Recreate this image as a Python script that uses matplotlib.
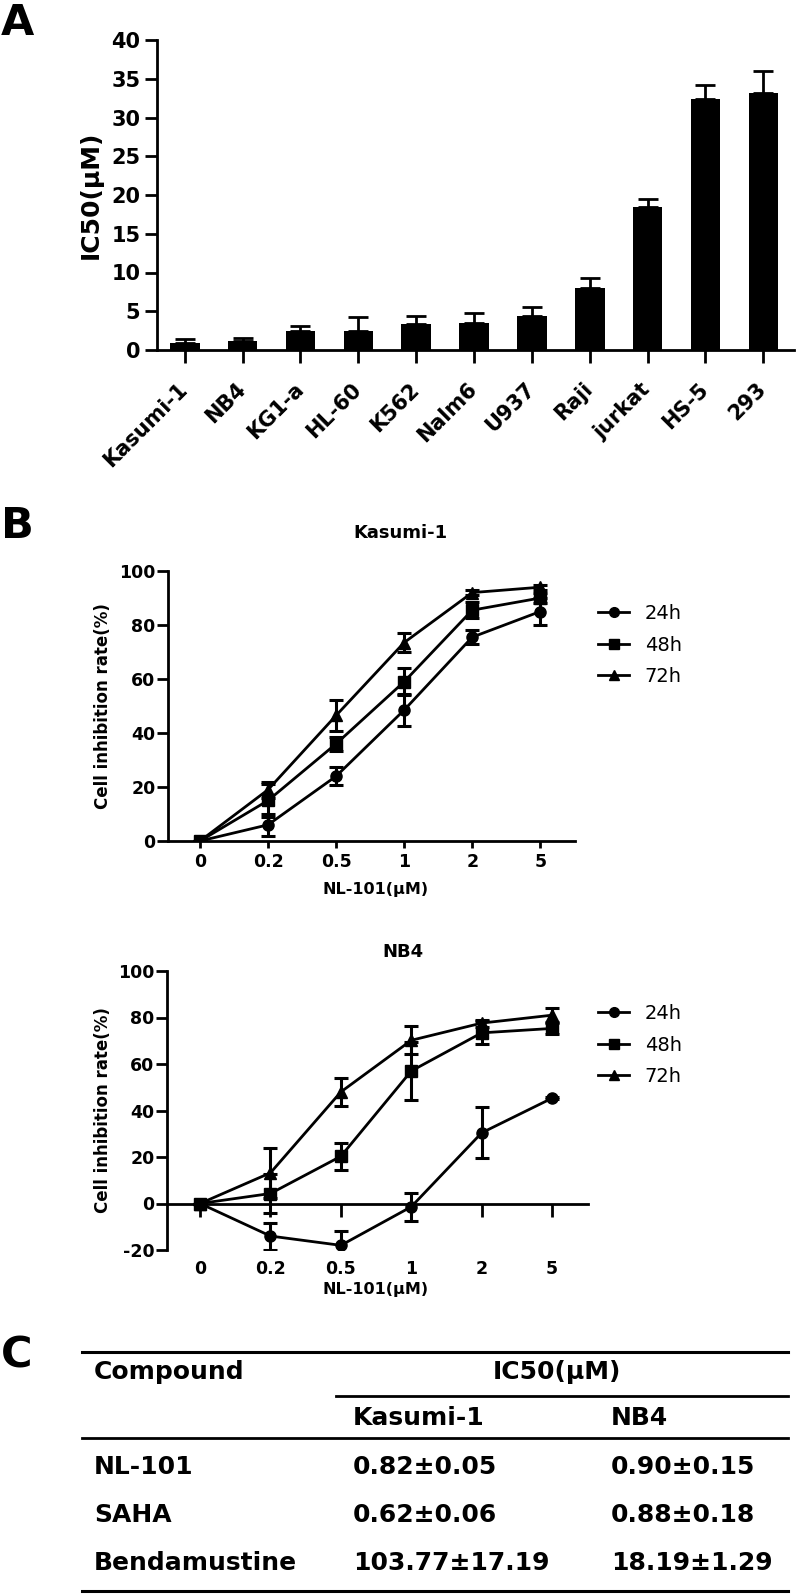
import matplotlib
matplotlib.use("Agg")
import matplotlib.pyplot as plt
from matplotlib.lines import Line2D
import numpy as np

plt.rcParams['font.family'] = ['DejaVu Sans']
plt.rcParams['font.weight'] = 'bold'
plt.rcParams['axes.labelweight'] = 'bold'
plt.rcParams['axes.unicode_minus'] = False

W, H = 796, 1595

# panel A data
cells = ["Kasumi-1", "NB4", "KG1-a", "HL-60", "K562", "Nalm6", "U937", "Raji", "jurkat", "HS-5", "293"]
ic50 = [0.95, 1.2, 2.45, 2.45, 3.3, 3.5, 4.4, 8.05, 18.45, 32.4, 33.2]
ic50_err = [0.5, 0.4, 0.65, 1.75, 1.15, 1.3, 1.2, 1.3, 1.05, 1.8, 2.85]

# panel B data
doses = ["0", "0.2", "0.5", "1", "2", "5"]
times = ["24h", "48h", "72h"]
markers = ["o", "s", "^"]
kas_24 = [0, 6, 24, 48.5, 75.5, 85]
kas_24_err = [0, 4, 3.3, 6, 2.5, 5]
kas_48 = [0, 15, 36, 59, 85.5, 90]
kas_48_err = [0, 6, 2.5, 5, 3, 2]
kas_72 = [0, 19, 46.5, 73.5, 92, 94]
kas_72_err = [0, 3, 5.7, 3.5, 1, 1]
nb4_24 = [0, -14, -18, -1.4, 30.4, 45.3]
nb4_24_err = [0, 5.8, 6, 6, 11, 0.5]
nb4_48 = [0, 4.3, 20.3, 57, 73.4, 75.3]
nb4_48_err = [0, 8.6, 5.7, 12.5, 5, 2.5]
nb4_72 = [0, 13.2, 48, 70.2, 77.6, 81]
nb4_72_err = [0, 10.7, 6, 6, 1.5, 3]

# panel C data
compounds = ["NL-101", "SAHA", "Bendamustine"]
kas_ic50 = ["0.82\u00b10.05", "0.62\u00b10.06", "103.77\u00b117.19"]
nb4_ic50 = ["0.90\u00b10.15", "0.88\u00b10.18", "18.19\u00b11.29"]


def rect(l, t, r, b):
    return [l / W, 1 - b / H, (r - l) / W, (b - t) / H]


fig = plt.figure(figsize=(W / 100, H / 100), dpi=100)

# ---- A ----
ax = fig.add_axes(rect(157, 40, 794, 350))
x = np.arange(len(cells))
ax.bar(x, ic50, width=0.51, color="black",
       yerr=[np.zeros(len(ic50)), ic50_err],
       error_kw=dict(ecolor="black", elinewidth=2, capsize=7, capthick=2))
ax.set_xlim(-0.48, 10.53)
ax.set_ylim(0, 40)
ax.set_yticks(range(0, 41, 5))
ax.set_xticks(x)
ax.set_xticklabels(cells, rotation=45, ha="right", va="center", rotation_mode="anchor", fontsize=15)
for s in ["top", "right"]:
    ax.spines[s].set_visible(False)
for s in ["left", "bottom"]:
    ax.spines[s].set_linewidth(2)
ax.tick_params(axis="both", width=2, length=9, direction="out", labelsize=15)
ax.tick_params(axis="y", pad=3)
ax.tick_params(axis="x", pad=17)
ax.set_ylabel("IC50(\u03bcM)", fontsize=18)
ax.yaxis.set_label_coords(-0.104, 0.5)
ax.yaxis.label.set_va("center")


def dose_plot(ax, series, errs, ylim, yticks):
    xs = np.arange(len(doses))
    for vals, err, m in zip(series, errs, markers):
        ax.errorbar(xs, vals, yerr=err, color="black", marker=m, ms=8 if m != "^" else 9,
                    lw=2, elinewidth=2.2, capsize=5, capthick=2.2)
    ax.set_xlim(-0.47, 5.51)
    ax.set_ylim(*ylim)
    ax.set_yticks(yticks)
    ax.set_xticks(xs)
    ax.set_xticklabels(doses)
    for s in ["top", "right"]:
        ax.spines[s].set_visible(False)
    for s in ["left", "bottom"]:
        ax.spines[s].set_linewidth(2)
    ax.tick_params(axis="both", width=2, labelsize=12.5)
    ax.tick_params(axis="y", length=8, pad=1)
    ax.set_ylabel("Cell inhibition rate(%)", fontsize=12)
    ax.yaxis.label.set_va("center")
    ax.set_xlabel("NL-101(\u03bcM)", fontsize=11.5)
    ax.xaxis.label.set_va("center")


handles = [Line2D([], [], color="black", marker=m, ms=7, lw=2) for m in markers]
leg_kw = dict(loc="upper left", frameon=False, borderpad=0, borderaxespad=0, handlelength=1.6,
              handletextpad=0.8, labelspacing=0.65, prop=dict(size=14, weight="normal"))

# ---- B, Kasumi-1 ----
ax1 = fig.add_axes(rect(168, 571, 575, 841))
dose_plot(ax1, [kas_24, kas_48, kas_72], [kas_24_err, kas_48_err, kas_72_err], (0, 100), range(0, 101, 20))
ax1.tick_params(axis="x", length=5, pad=4)
ax1.yaxis.set_label_coords(-0.16, 0.5)
ax1.xaxis.set_label_coords(0.51, -0.18)
fig.legend(handles, times, bbox_to_anchor=(598 / W, 1 - 604 / H), **leg_kw)

# ---- B, NB4 ----
ax2 = fig.add_axes(rect(167, 971, 588, 1250))
dose_plot(ax2, [nb4_24, nb4_48, nb4_72], [nb4_24_err, nb4_48_err, nb4_72_err], (-20, 100), range(-20, 101, 20))
ax2.spines["bottom"].set_position(("data", 0))
ax2.tick_params(axis="x", length=9, pad=32)
ax2.yaxis.set_label_coords(-0.152, 0.5)
ax2.xaxis.set_label_coords(0.496, -0.143)
fig.legend(handles, times, bbox_to_anchor=(598 / W, 1 - 1004 / H), **leg_kw)

# ---- overlay: letters, titles, table C ----
ov = fig.add_axes([0, 0, 1, 1], zorder=-1)
ov.set_xlim(0, W)
ov.set_ylim(H, 0)
ov.axis("off")
for letter, yy in zip("ABC", [35, 538, 1368]):
    ov.text(1, yy, letter, fontsize=31, ha="left", va="baseline")
ov.text(400, 533, "Kasumi-1", fontsize=13, ha="center", va="center")
ov.text(403, 952, "NB4", fontsize=13, ha="center", va="center")

ov.plot([82, 788], [1352, 1352], color="black", lw=2.2)
ov.plot([336, 788], [1396, 1396], color="black", lw=2)
ov.plot([82, 788], [1438, 1438], color="black", lw=2)
ov.plot([82, 788], [1591, 1591], color="black", lw=2.2)
ov.text(94, 1372, "Compound", fontsize=18, va="center")
ov.text(557, 1372, "IC50(\u03bcM)", fontsize=18, va="center", ha="center")
ov.text(353, 1418, "Kasumi-1", fontsize=18, va="center")
ov.text(611, 1418, "NB4", fontsize=18, va="center")
for i, (c, k, n) in enumerate(zip(compounds, kas_ic50, nb4_ic50)):
    yy = 1467 + i * 48
    ov.text(94, yy, c, fontsize=18, va="center")
    ov.text(353, yy, k, fontsize=18, va="center")
    ov.text(611, yy, n, fontsize=18, va="center")

fig.savefig("out.png", dpi=100)
